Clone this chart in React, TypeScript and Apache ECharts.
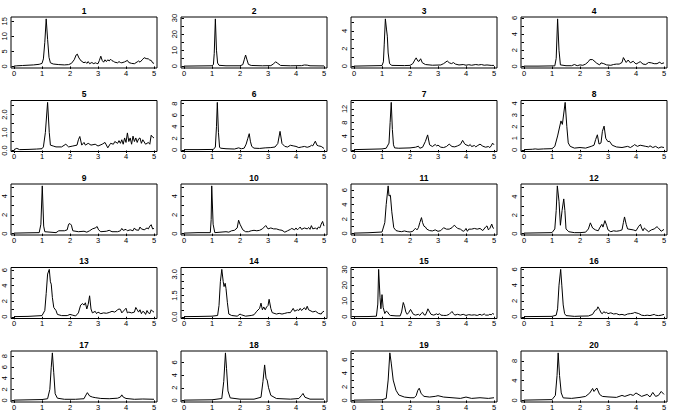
import { useEffect, useRef } from "react";
import * as echarts from "echarts";

// ---- series values: [x, intensity] pairs ----
const p1 = [[0,0.1],[0.1,0.2],[0.3,0.3],[0.5,0.4],[0.7,0.5],[0.9,0.7],[1.0,1.0],[1.05,2.5],[1.1,8],[1.15,15.8],[1.2,9],[1.25,3],[1.3,1.2],[1.4,0.8],[1.6,0.6],[1.8,0.5],[1.95,0.6],[2.05,1.0],[2.15,2.2],[2.22,3.8],[2.26,4.1],[2.32,2.8],[2.4,1.8],[2.5,1.2],[2.55,1.5],[2.6,1.0],[2.65,1.6],[2.7,0.9],[2.78,1.3],[2.85,0.9],[2.9,1.2],[2.95,1.0],[3.0,0.9],[3.05,2.0],[3.1,3.4],[3.15,2.0],[3.2,1.4],[3.25,2.2],[3.3,1.6],[3.35,2.2],[3.4,1.8],[3.45,2.4],[3.5,1.9],[3.55,1.7],[3.6,1.4],[3.7,1.2],[3.75,1.6],[3.8,1.3],[3.85,1.2],[3.95,1.5],[4.05,2.0],[4.1,1.3],[4.2,1.0],[4.3,0.9],[4.4,1.5],[4.45,1.8],[4.5,1.4],[4.6,2.4],[4.65,2.9],[4.72,2.6],[4.8,2.5],[4.85,2.1],[4.9,2.0],[4.95,1.2],[5.0,1.0]];
const p2 = [[0,0.1],[0.5,0.2],[1.0,0.3],[1.05,1],[1.08,8],[1.12,29.5],[1.16,10],[1.2,2],[1.25,0.6],[1.5,0.3],[2.0,0.3],[2.1,1],[2.15,4],[2.2,7],[2.25,4],[2.3,1.2],[2.4,0.5],[2.8,0.3],[3.1,0.4],[3.2,1.5],[3.27,2.8],[3.35,1.8],[3.45,0.5],[3.8,0.3],[4.2,0.4],[4.3,0.8],[4.4,0.7],[4.5,0.3],[5.0,0.2]];
const p3 = [[0,0.02],[0.5,0.05],[1.0,0.08],[1.05,0.5],[1.08,2.5],[1.12,5.35],[1.16,4.2],[1.19,3.4],[1.22,1.5],[1.27,0.3],[1.35,0.1],[1.8,0.08],[2.0,0.1],[2.1,0.3],[2.17,0.7],[2.22,0.95],[2.28,0.6],[2.32,0.55],[2.38,0.85],[2.44,0.4],[2.55,0.2],[2.8,0.12],[3.1,0.15],[3.2,0.3],[3.33,0.6],[3.4,0.4],[3.48,0.3],[3.55,0.42],[3.62,0.25],[3.75,0.15],[3.9,0.2],[4.0,0.12],[4.1,0.18],[4.2,0.12],[4.35,0.2],[4.45,0.15],[4.55,0.2],[4.65,0.12],[4.75,0.15],[4.9,0.1],[5.0,0.1]];
const p4 = [[0,0.05],[0.5,0.05],[1.1,0.08],[1.15,1.0],[1.2,5.87],[1.25,2.0],[1.3,0.2],[1.5,0.1],[1.7,0.1],[1.8,0.25],[1.9,0.1],[2.0,0.2],[2.1,0.15],[2.2,0.3],[2.3,0.6],[2.35,0.85],[2.45,0.85],[2.5,0.7],[2.6,0.4],[2.7,0.2],[2.75,0.45],[2.85,0.35],[2.95,0.2],[3.1,0.15],[3.2,0.25],[3.3,0.3],[3.4,0.3],[3.5,0.5],[3.55,1.1],[3.65,0.5],[3.72,0.8],[3.8,0.45],[3.9,0.65],[4.0,0.3],[4.1,0.5],[4.15,0.6],[4.25,0.3],[4.35,0.25],[4.45,0.5],[4.55,0.45],[4.65,0.35],[4.75,0.35],[4.85,0.55],[4.9,0.35],[5.0,0.45]];
const p5 = [[0,0.05],[0.1,0.12],[0.2,0.05],[0.5,0.06],[0.8,0.08],[1.0,0.1],[1.05,0.2],[1.12,1.0],[1.2,2.68],[1.26,1.0],[1.3,0.3],[1.4,0.25],[1.5,0.2],[1.7,0.2],[1.85,0.35],[1.95,0.2],[2.1,0.25],[2.25,0.3],[2.3,0.6],[2.35,0.78],[2.42,0.3],[2.5,0.45],[2.55,0.3],[2.65,0.4],[2.75,0.3],[2.9,0.35],[3.0,0.25],[3.15,0.35],[3.25,0.45],[3.35,0.15],[3.45,0.4],[3.55,0.35],[3.6,0.5],[3.7,0.4],[3.75,0.55],[3.8,0.4],[3.85,0.6],[3.9,0.35],[3.95,0.7],[4.0,0.45],[4.05,0.98],[4.1,0.5],[4.15,0.7],[4.2,0.35],[4.25,0.8],[4.3,0.5],[4.35,0.7],[4.4,0.45],[4.45,0.65],[4.5,0.7],[4.55,0.4],[4.6,0.6],[4.7,0.35],[4.8,0.45],[4.85,0.35],[4.9,0.85],[4.95,0.75],[5.0,0.7]];
const p6 = [[0,0.05],[0.5,0.05],[1.05,0.08],[1.12,0.5],[1.16,4],[1.19,8.2],[1.23,3],[1.27,0.5],[1.3,0.3],[1.5,0.2],[1.8,0.15],[1.95,0.35],[2.05,0.2],[2.15,0.3],[2.22,1.0],[2.28,2.0],[2.33,2.8],[2.37,1.5],[2.42,0.6],[2.5,0.3],[2.7,0.25],[2.9,0.35],[3.1,0.4],[3.25,0.5],[3.35,1.1],[3.43,3.2],[3.5,1.1],[3.6,0.6],[3.7,0.5],[3.8,0.8],[3.9,0.7],[4.0,0.6],[4.1,0.4],[4.2,0.5],[4.3,0.6],[4.4,0.45],[4.5,0.6],[4.55,0.8],[4.6,0.7],[4.69,1.5],[4.75,0.8],[4.8,0.7],[4.9,0.6],[5.0,0.25]];
const p7 = [[0,0.1],[0.5,0.2],[1.0,0.3],[1.15,0.5],[1.25,2],[1.29,8],[1.33,13.9],[1.37,6],[1.41,1.5],[1.45,0.6],[1.6,0.5],[2.0,0.6],[2.2,0.8],[2.3,1.1],[2.35,0.5],[2.45,0.8],[2.55,2.5],[2.63,4.4],[2.7,1.5],[2.8,1.0],[2.9,1.6],[2.95,1.2],[3.0,1.4],[3.1,0.8],[3.2,0.7],[3.3,1.0],[3.4,1.7],[3.5,1.0],[3.6,0.9],[3.7,1.2],[3.8,1.6],[3.88,2.8],[3.95,1.8],[4.0,1.5],[4.1,1.2],[4.15,1.6],[4.2,1.0],[4.3,1.3],[4.35,0.9],[4.4,1.2],[4.5,1.7],[4.6,1.1],[4.7,0.8],[4.8,1.0],[4.85,0.7],[4.9,1.2],[4.95,2.0],[5.0,1.5]];
const p8 = [[0,0.02],[0.3,0.05],[0.4,0.08],[0.5,0.05],[0.7,0.08],[1.0,0.1],[1.1,0.3],[1.2,1.2],[1.32,2.5],[1.37,2.2],[1.47,4.1],[1.53,2.0],[1.58,0.6],[1.65,0.3],[1.8,0.15],[2.0,0.2],[2.2,0.15],[2.4,0.3],[2.5,0.4],[2.56,0.9],[2.62,1.3],[2.68,0.5],[2.75,0.6],[2.8,1.6],[2.86,2.05],[2.92,1.0],[3.0,0.7],[3.05,0.75],[3.15,0.4],[3.3,0.25],[3.5,0.2],[3.7,0.3],[3.8,0.2],[3.9,0.35],[3.95,0.45],[4.05,0.3],[4.15,0.4],[4.25,0.35],[4.35,0.3],[4.45,0.25],[4.5,0.35],[4.6,0.2],[4.7,0.3],[4.8,0.15],[4.9,0.25],[5.0,0.2]];
const p9 = [[0,0.05],[0.5,0.08],[0.9,0.1],[0.96,1.0],[1.01,5.1],[1.06,0.8],[1.1,0.2],[1.5,0.1],[1.6,0.3],[1.8,0.3],[1.9,0.4],[1.95,1.0],[2.0,1.07],[2.05,0.9],[2.1,0.3],[2.3,0.2],[2.5,0.25],[2.6,0.15],[2.7,0.3],[2.8,0.5],[2.9,0.6],[2.97,0.75],[3.02,0.4],[3.1,0.2],[3.3,0.25],[3.4,0.35],[3.5,0.2],[3.7,0.2],[3.8,0.3],[3.85,0.55],[3.9,0.35],[4.0,0.45],[4.05,0.3],[4.15,0.4],[4.25,0.3],[4.3,0.6],[4.35,0.4],[4.45,0.35],[4.5,0.7],[4.55,0.5],[4.65,0.4],[4.75,0.6],[4.8,0.5],[4.85,0.8],[4.9,0.95],[4.95,0.5],[5.0,0.55]];
const p10 = [[0,0.05],[0.5,0.1],[0.94,0.1],[0.97,1.5],[0.99,5.1],[1.04,1.0],[1.1,0.1],[1.5,0.2],[1.6,0.15],[1.7,0.3],[1.8,0.35],[1.9,0.6],[1.95,1.43],[2.0,1.0],[2.1,0.4],[2.2,0.2],[2.3,0.2],[2.4,0.3],[2.5,0.35],[2.6,0.3],[2.7,0.35],[2.8,0.5],[2.92,0.86],[3.0,0.5],[3.1,0.6],[3.2,0.5],[3.3,0.5],[3.4,0.4],[3.5,0.35],[3.6,0.15],[3.7,0.3],[3.8,0.45],[3.85,0.55],[3.95,0.4],[4.0,0.6],[4.05,0.4],[4.1,0.55],[4.15,0.7],[4.2,0.45],[4.3,0.6],[4.4,0.5],[4.45,0.65],[4.5,0.45],[4.55,0.85],[4.6,0.5],[4.7,0.6],[4.75,0.45],[4.8,0.7],[4.85,0.6],[4.9,1.0],[4.95,1.3],[5.0,0.8]];
const p11 = [[0,0.05],[0.5,0.1],[1.0,0.2],[1.1,1.5],[1.15,4],[1.22,6.6],[1.25,5.2],[1.3,5.3],[1.35,3],[1.42,0.8],[1.5,0.4],[1.6,0.3],[1.7,0.25],[1.8,0.35],[1.9,0.25],[2.0,0.2],[2.1,0.3],[2.15,0.55],[2.2,0.7],[2.25,0.5],[2.3,0.8],[2.35,1.5],[2.41,2.2],[2.45,1.5],[2.5,1.0],[2.55,0.9],[2.6,0.6],[2.7,0.4],[2.8,0.35],[2.9,0.5],[3.0,0.3],[3.1,0.4],[3.2,0.8],[3.3,0.6],[3.4,0.6],[3.5,0.8],[3.58,1.15],[3.65,0.9],[3.7,0.7],[3.8,0.6],[3.9,0.3],[3.95,0.4],[4.0,0.7],[4.05,0.3],[4.1,0.6],[4.2,0.6],[4.3,0.7],[4.4,0.6],[4.5,0.7],[4.6,0.4],[4.7,0.9],[4.75,1.05],[4.8,0.5],[4.85,0.7],[4.92,1.3],[4.96,0.8],[5.0,0.7]];
const p12 = [[0,0.05],[1.0,0.1],[1.1,0.5],[1.15,2.5],[1.19,5.16],[1.25,3.5],[1.3,0.9],[1.36,2.5],[1.42,3.75],[1.46,2.5],[1.5,0.5],[1.6,0.2],[1.8,0.1],[2.0,0.1],[2.2,0.15],[2.3,0.5],[2.37,1.16],[2.45,0.6],[2.55,0.4],[2.65,0.3],[2.7,0.6],[2.78,1.0],[2.82,0.7],[2.89,1.4],[2.95,0.9],[3.0,0.4],[3.1,0.2],[3.2,0.3],[3.3,0.25],[3.4,0.3],[3.5,0.4],[3.55,1.2],[3.59,1.8],[3.65,1.0],[3.7,0.5],[3.9,0.4],[4.0,0.3],[4.1,0.8],[4.16,1.0],[4.2,0.6],[4.25,0.3],[4.3,0.6],[4.35,0.45],[4.45,0.2],[4.55,0.4],[4.65,0.5],[4.75,0.75],[4.8,0.6],[4.9,0.25],[5.0,0.45]];
const p13 = [[0,0.02],[0.5,0.05],[1.0,0.15],[1.1,0.8],[1.15,3],[1.2,5.5],[1.26,6.1],[1.3,4.5],[1.33,4.2],[1.37,2.5],[1.42,1.2],[1.5,0.8],[1.55,0.3],[1.7,0.15],[1.9,0.15],[2.0,0.3],[2.1,0.2],[2.2,0.1],[2.3,0.5],[2.38,1.5],[2.45,1.7],[2.5,1.5],[2.55,1.8],[2.6,1.0],[2.65,1.6],[2.7,2.7],[2.75,1.0],[2.8,0.5],[2.9,0.7],[2.95,0.4],[3.0,0.6],[3.1,0.4],[3.2,0.5],[3.3,0.45],[3.4,0.55],[3.5,0.7],[3.6,0.6],[3.7,0.9],[3.75,1.0],[3.8,0.95],[3.85,0.5],[3.95,0.9],[4.0,1.1],[4.05,0.5],[4.1,0.6],[4.2,0.5],[4.3,0.6],[4.35,1.2],[4.4,0.9],[4.45,0.6],[4.5,0.9],[4.55,0.4],[4.6,0.7],[4.65,0.6],[4.7,0.3],[4.75,0.8],[4.8,0.5],[4.85,0.4],[4.9,0.9],[4.95,0.7],[5.0,0.6]];
const p14 = [[0,0.02],[0.5,0.03],[1.0,0.05],[1.2,0.1],[1.25,0.8],[1.3,2.5],[1.35,3.35],[1.4,2.5],[1.43,2.14],[1.47,2.37],[1.5,2.0],[1.55,1.0],[1.6,0.2],[1.7,0.1],[1.9,0.05],[2.0,0.2],[2.05,0.15],[2.2,0.05],[2.4,0.1],[2.5,0.15],[2.6,0.4],[2.7,0.6],[2.75,0.97],[2.8,0.5],[2.85,0.7],[2.9,0.5],[2.95,0.7],[3.0,0.8],[3.04,1.24],[3.1,0.6],[3.15,0.3],[3.3,0.2],[3.4,0.25],[3.5,0.2],[3.6,0.25],[3.7,0.3],[3.8,0.3],[3.9,0.6],[3.95,0.4],[4.0,0.45],[4.05,0.5],[4.1,0.45],[4.15,0.6],[4.2,0.45],[4.3,0.65],[4.35,0.5],[4.4,0.75],[4.45,0.5],[4.5,0.45],[4.6,0.35],[4.7,0.4],[4.8,0.25],[4.9,0.2],[4.95,0.35],[5.0,0.4]];
const p15 = [[0,0.05],[0.5,0.1],[0.8,0.3],[0.85,8],[0.88,30],[0.93,12],[0.96,5],[1.0,14],[1.04,6],[1.1,2],[1.15,3.5],[1.2,3],[1.25,1.5],[1.3,0.8],[1.5,0.5],[1.65,0.5],[1.7,3],[1.76,9],[1.8,7],[1.85,3],[1.9,1.5],[1.95,2.5],[2.02,4.6],[2.07,3],[2.12,1.5],[2.2,1.0],[2.3,1.5],[2.35,0.8],[2.4,2.0],[2.45,2.8],[2.5,1.2],[2.55,1.0],[2.6,3],[2.64,5],[2.7,3],[2.75,1.5],[2.85,1.0],[2.95,1.8],[3.0,1.2],[3.05,2.0],[3.1,1.0],[3.2,0.8],[3.3,0.8],[3.4,1.5],[3.5,3.3],[3.55,2.0],[3.6,1.0],[3.7,1.5],[3.8,1.0],[3.9,1.5],[4.0,0.8],[4.1,1.3],[4.2,1.0],[4.3,1.2],[4.4,0.8],[4.5,1.5],[4.55,1.0],[4.6,1.2],[4.65,1.8],[4.7,1.0],[4.8,1.0],[4.85,1.5],[4.9,1.2],[4.95,2.0],[5.0,1.5]];
const p16 = [[0,0.02],[1.0,0.05],[1.15,0.2],[1.2,1.0],[1.25,4],[1.31,6.0],[1.35,4],[1.4,1.5],[1.45,0.4],[1.5,0.15],[1.8,0.05],[2.0,0.08],[2.3,0.1],[2.45,0.3],[2.5,0.6],[2.55,0.85],[2.6,0.9],[2.64,1.26],[2.7,0.9],[2.75,0.5],[2.8,0.4],[2.85,0.65],[2.9,0.5],[2.95,0.55],[3.0,0.4],[3.1,0.5],[3.2,0.35],[3.3,0.4],[3.4,0.25],[3.5,0.3],[3.6,0.2],[3.7,0.35],[3.8,0.4],[3.9,0.45],[3.95,0.55],[4.0,0.5],[4.1,0.4],[4.2,0.2],[4.3,0.15],[4.4,0.2],[4.5,0.15],[4.6,0.25],[4.65,0.3],[4.7,0.2],[4.8,0.15],[4.9,0.2],[5.0,0.3]];
const p17 = [[0,0.05],[0.5,0.1],[1.0,0.15],[1.2,0.3],[1.28,2],[1.33,6],[1.37,8.6],[1.42,5],[1.47,1.2],[1.55,0.4],[1.8,0.2],[2.2,0.2],[2.5,0.3],[2.55,0.8],[2.62,1.4],[2.7,0.8],[2.8,0.6],[2.9,0.5],[3.1,0.35],[3.4,0.3],[3.7,0.4],[3.8,0.6],[3.85,1.0],[3.9,0.6],[4.0,0.35],[4.3,0.2],[4.6,0.25],[5.0,0.2]];
const p18 = [[0,0.05],[1.0,0.1],[1.35,0.3],[1.42,3],[1.48,7.5],[1.52,5],[1.57,1.5],[1.65,0.4],[2.0,0.2],[2.5,0.2],[2.75,0.5],[2.82,3],[2.88,5.6],[2.93,3.5],[2.97,3.2],[3.02,2.0],[3.1,0.8],[3.3,0.3],[3.8,0.2],[4.1,0.3],[4.2,0.8],[4.25,1.1],[4.32,0.5],[4.5,0.2],[5.0,0.2]];
const p19 = [[0,0.05],[1.0,0.1],[1.15,0.3],[1.22,3],[1.28,7.0],[1.33,5.5],[1.4,3],[1.5,1.5],[1.6,0.8],[1.8,0.5],[2.0,0.4],[2.15,0.4],[2.22,0.7],[2.28,1.5],[2.33,1.8],[2.4,1.0],[2.5,0.6],[2.7,0.5],[2.9,0.6],[3.0,0.7],[3.2,0.5],[3.5,0.4],[3.8,0.3],[4.0,0.5],[4.2,0.3],[4.5,0.4],[4.8,0.3],[5.0,0.4]];
const p20 = [[0,0.05],[1.0,0.15],[1.12,1],[1.18,5],[1.22,9.6],[1.27,5],[1.33,1.5],[1.4,0.5],[1.7,0.4],[2.0,0.6],[2.2,0.8],[2.35,1.5],[2.45,2.4],[2.5,1.8],[2.6,2.5],[2.7,1.2],[2.8,0.8],[3.0,0.7],[3.3,0.6],[3.5,1.0],[3.6,0.8],[3.8,1.2],[3.9,1.0],[4.0,1.5],[4.2,0.8],[4.4,1.2],[4.5,0.7],[4.6,1.6],[4.7,0.8],[4.8,1.0],[4.9,1.8],[5.0,1.2]];

const panelTitles = ["1","2","3","4","5","6","7","8","9","10","11","12","13","14","15","16","17","18","19","20"];

// ---- tick marks ----
const xTicks = [0, 1, 2, 3, 4, 5];
const ySteps = [5, 5, 1, 1, 0.5, 2, 2, 1, 1, 1, 1, 1, 1, 0.5, 5, 1, 2, 2, 1, 2];
const yLabelSteps = [5, 10, 2, 2, 1, 2, 4, 1, 2, 2, 2, 2, 2, 1.5, 10, 2, 2, 2, 2, 4];
const yLabelDecimals = [0, 0, 0, 0, 1, 0, 0, 0, 0, 0, 0, 0, 0, 1, 0, 0, 0, 0, 0, 0];

const seriesData = [p1, p2, p3, p4, p5, p6, p7, p8, p9, p10, p11, p12, p13, p14, p15, p16, p17, p18, p19, p20];

const FONT = "'Liberation Sans', Arial, sans-serif";

function multiples(step: number, lo: number, hi: number): number[] {
  const out: number[] = [];
  for (let k = 0; k * step <= hi + 1e-9; k++) {
    const v = +(k * step).toFixed(6);
    if (v >= lo) out.push(v);
  }
  return out;
}

function buildOption() {
  const grid: any[] = [];
  const xAxis: any[] = [];
  const yAxis: any[] = [];
  const series: any[] = [];
  const title: any[] = [];
  seriesData.forEach((data, i) => {
    const r = Math.floor(i / 4);
    const c = i % 4;
    const x0 = 14 + c * 170;
    const top = 17 + r * 83.5;
    const ys = data.map((d) => d[1]);
    const lo = Math.min(...ys);
    const hi = Math.max(...ys);
    const pad = (hi - lo) * 0.04;
    const ymin = lo - pad;
    const ymax = hi + pad;
    const ticks = multiples(ySteps[i], ymin, ymax);
    const labels = multiples(yLabelSteps[i], ymin, ymax);
    const dec = yLabelDecimals[i];
    grid.push({
      left: x0 - 3, top, width: 146, height: 51, outerBoundsMode: "none", containLabel: false,
      show: true, borderColor: "#000", borderWidth: 1, backgroundColor: "transparent",
    });
    xAxis.push({
      type: "value", gridIndex: i, min: -3 / 28, max: 5 + 3 / 28,
      axisLine: { show: false }, splitLine: { show: false },
      axisTick: { show: true, length: 2.5, customValues: xTicks, lineStyle: { color: "#000", width: 1 } },
      axisLabel: { show: true, customValues: xTicks, fontSize: 7.5, margin: 1, color: "#000", fontFamily: FONT },
    });
    yAxis.push({
      type: "value", gridIndex: i, min: ymin, max: ymax,
      axisLine: { show: false }, splitLine: { show: false },
      axisTick: { show: true, length: 2.5, customValues: ticks, lineStyle: { color: "#000", width: 1 } },
      axisLabel: {
        show: true, customValues: labels, rotate: 90, fontSize: 7.5, margin: 2.5, color: "#000", fontFamily: FONT,
        formatter: (v: number) => v.toFixed(dec),
      },
    });
    series.push({
      type: "line", xAxisIndex: i, yAxisIndex: i, data, showSymbol: false, silent: true,
      lineStyle: { color: "#000", width: 1 }, clip: true,
    });
    title.push({
      text: panelTitles[i], left: x0 + 70, top: top - 11, textAlign: "center", padding: 0,
      textStyle: { fontSize: 8.5, fontWeight: "bold", color: "#000", fontFamily: FONT, lineHeight: 9 },
    });
  });
  return { animation: false, backgroundColor: "#fff", title, grid, xAxis, yAxis, series };
}

export default function App() {
  const ref = useRef<HTMLDivElement>(null);
  useEffect(() => {
    if (!ref.current) return;
    const chart = echarts.init(ref.current, undefined, { renderer: "svg" });
    chart.setOption(buildOption());
    return () => chart.dispose();
  }, []);
  return <div ref={ref} style={{ position: "fixed", left: 0, top: 0, width: 675, height: 420, background: "#fff" }} />;
}
